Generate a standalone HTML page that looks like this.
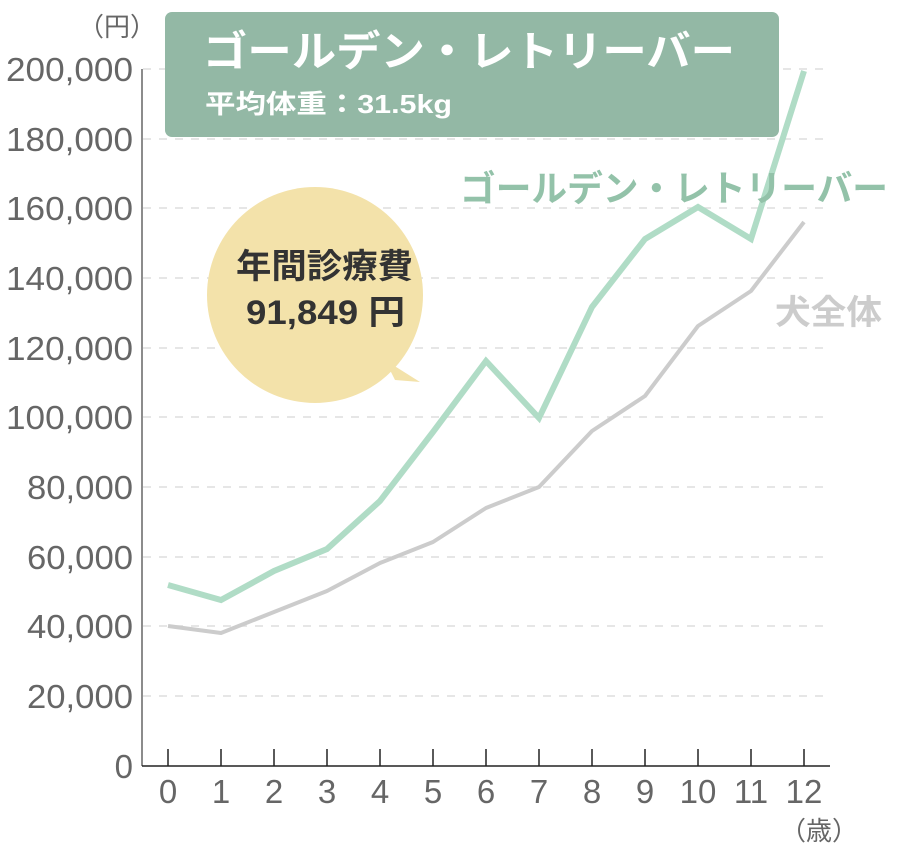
<!DOCTYPE html>
<html><head><meta charset="utf-8"><style>
body{margin:0;background:#fff;}
svg text{font-family:"Liberation Sans","Noto Sans CJK JP",sans-serif;}
</style></head><body>
<svg width="900" height="847" viewBox="0 0 900 847" xmlns="http://www.w3.org/2000/svg">
<g stroke="#ddd" stroke-width="1.5" stroke-dasharray="8,8">
<line x1="143" x2="830" y1="69" y2="69"/><line x1="143" x2="830" y1="139" y2="139"/>
<line x1="143" x2="830" y1="208" y2="208"/><line x1="143" x2="830" y1="278" y2="278"/>
<line x1="143" x2="830" y1="348" y2="348"/><line x1="143" x2="830" y1="417" y2="417"/>
<line x1="143" x2="830" y1="487" y2="487"/><line x1="143" x2="830" y1="557" y2="557"/>
<line x1="143" x2="830" y1="626" y2="626"/><line x1="143" x2="830" y1="696" y2="696"/>
</g>
<g fill="#666" font-size="33" text-anchor="end">
<text x="133" y="81" textLength="127" lengthAdjust="spacingAndGlyphs">200,000</text><text x="133" y="151" textLength="127" lengthAdjust="spacingAndGlyphs">180,000</text>
<text x="133" y="220" textLength="127" lengthAdjust="spacingAndGlyphs">160,000</text><text x="133" y="290" textLength="127" lengthAdjust="spacingAndGlyphs">140,000</text>
<text x="133" y="360" textLength="127" lengthAdjust="spacingAndGlyphs">120,000</text><text x="133" y="429" textLength="127" lengthAdjust="spacingAndGlyphs">100,000</text>
<text x="133" y="499" textLength="106" lengthAdjust="spacingAndGlyphs">80,000</text><text x="133" y="569" textLength="106" lengthAdjust="spacingAndGlyphs">60,000</text>
<text x="133" y="638" textLength="106" lengthAdjust="spacingAndGlyphs">40,000</text><text x="133" y="708" textLength="106" lengthAdjust="spacingAndGlyphs">20,000</text>
<text x="133" y="778">0</text>
</g>
<text x="78" y="36" fill="#666" font-size="26">（円）</text>
<text x="780" y="840" fill="#666" font-size="26">（歳）</text>
<line x1="142" y1="69" x2="142" y2="766" stroke="#666" stroke-width="1.5"/>
<line x1="142" y1="766" x2="830" y2="766" stroke="#222" stroke-width="1.5"/>
<g stroke="#222" stroke-width="1.5">
<line x1="168" x2="168" y1="749" y2="766"/><line x1="221" x2="221" y1="749" y2="766"/>
<line x1="274" x2="274" y1="749" y2="766"/><line x1="327" x2="327" y1="749" y2="766"/>
<line x1="380" x2="380" y1="749" y2="766"/><line x1="433" x2="433" y1="749" y2="766"/>
<line x1="486" x2="486" y1="749" y2="766"/><line x1="539" x2="539" y1="749" y2="766"/>
<line x1="592" x2="592" y1="749" y2="766"/><line x1="645" x2="645" y1="749" y2="766"/>
<line x1="698" x2="698" y1="749" y2="766"/><line x1="751" x2="751" y1="749" y2="766"/>
<line x1="804" x2="804" y1="749" y2="766"/>
</g>
<g fill="#666" font-size="33" text-anchor="middle">
<text x="168" y="803">0</text><text x="221" y="803">1</text><text x="274" y="803">2</text>
<text x="327" y="803">3</text><text x="380" y="803">4</text><text x="433" y="803">5</text>
<text x="486" y="803">6</text><text x="539" y="803">7</text><text x="592" y="803">8</text>
<text x="645" y="803">9</text><text x="698" y="803">10</text><text x="751" y="803">11</text>
<text x="804" y="803">12</text>
</g>
<polyline fill="none" stroke="#ccc" stroke-width="4" stroke-linejoin="round" points="168,626 221,633 274,612 327,591 380,563 433,542 486,508 539,487 592,431 645,396 698,326 751,291 804,222"/>
<polyline fill="none" stroke="#b0dcc6" stroke-width="6" stroke-linejoin="miter" points="168,585 221,600 274,571 327,549 380,501 433,432 486,361 539,418 592,307 645,239 698,207 751,239 804,71"/>
<rect x="165" y="12" width="614" height="125" rx="7" fill="#93b8a5"/>
<text x="203" y="66" fill="#fff" font-size="42" font-weight="bold" textLength="532" lengthAdjust="spacingAndGlyphs">ゴールデン・レトリーバー</text>
<text x="205" y="113" fill="#fff" font-size="26" font-weight="bold" textLength="247" lengthAdjust="spacingAndGlyphs">平均体重：31.5kg</text>
<text x="460" y="201" fill="#93c2a9" font-size="36" font-weight="bold" textLength="428" lengthAdjust="spacingAndGlyphs">ゴールデン・レトリーバー</text>
<text x="775" y="324" fill="#ccc" font-size="34" font-weight="bold" textLength="107" lengthAdjust="spacingAndGlyphs">犬全体</text>
<circle cx="315" cy="295" r="108" fill="#f3e2aa"/>
<polygon points="385,360 420,382 395,380" fill="#f3e2aa"/>
<text x="236" y="278" fill="#333" font-size="34" font-weight="bold" textLength="177" lengthAdjust="spacingAndGlyphs">年間診療費</text>
<text x="246" y="324" fill="#333" font-size="34" font-weight="bold" textLength="159" lengthAdjust="spacingAndGlyphs">91,849 円</text>
</svg>
</body></html>
